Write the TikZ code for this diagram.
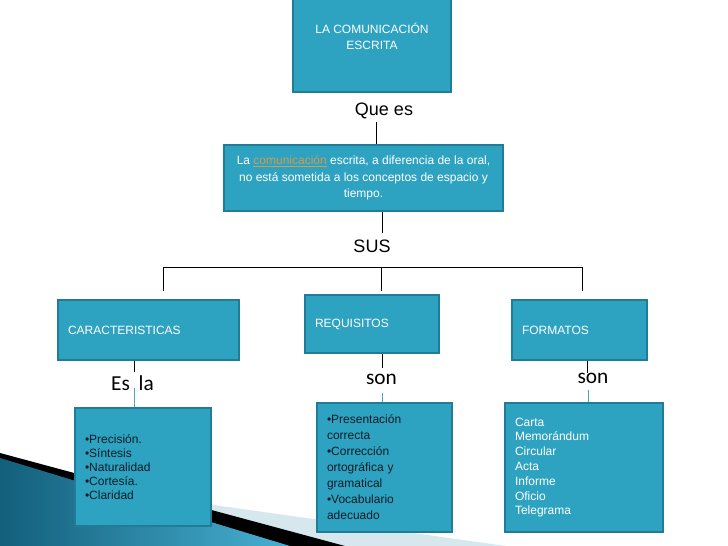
\documentclass[tikz,border=0pt]{standalone}
\usepackage{fontspec}
\setmainfont{Liberation Sans}
\newfontfamily\calib{Carlito}
\usetikzlibrary{shadows}
\definecolor{boxfill}{HTML}{2EA3C1}
\definecolor{boxedge}{HTML}{217D97}
\definecolor{linkc}{HTML}{D39B4C}
\definecolor{darktext}{HTML}{0E1C27}
\definecolor{tealline}{HTML}{4AA6C0}
\definecolor{stripc}{HTML}{D6E8EE}
\definecolor{tealdark}{HTML}{125F7B}
\definecolor{teallight}{HTML}{48B0D2}
\begin{document}
\begin{tikzpicture}[x=0.75pt,y=-0.75pt,
  box/.style={rectangle, fill=boxfill, draw=boxedge, line width=1.5pt,
    drop shadow={shadow xshift=0.8pt, shadow yshift=-0.8pt, opacity=0.3, fill=black},
    font=\fontsize{9}{12}\selectfont, text=white},
  boxleft/.style={align=left, inner xsep=7.5pt},
  conn/.style={draw=black, line width=0.7pt},
  tconn/.style={draw=tealline, line width=0.7pt},
  biglabel/.style={font=\fontsize{13.5}{16}\selectfont, text=black, inner sep=0pt},
  linklabel/.style={font=\calib\fontsize{16}{18}\selectfont, text=black, inner sep=0pt}]
\useasboundingbox (0,0) rectangle (728,546);
% background decoration
\fill[stripc] (0,475) -- (506,546) -- (0,546) -- cycle;
\fill[black] (0,453) -- (345,546) -- (0,546) -- cycle;
\shade[left color=tealdark, right color=teallight] (0,458) -- (290,546) -- (0,546) -- cycle;
% boxes
\node[box, minimum width=118.5pt, minimum height=73.5pt, align=center] (top) at (372,43)
  {LA COMUNICACIÓN\\ESCRITA\\[-2pt]\mbox{}};
\node[biglabel, anchor=base] (que) at (384,115.5) {Que es};
\node[box, minimum width=209.25pt, minimum height=49.5pt, align=center,
  font=\fontsize{9}{12.4}\selectfont] (mid) at (363.5,178)
  {La {\color{linkc}\underline{comunicación}} escrita, a diferencia de la oral,\\
   no está sometida a los conceptos de espacio y\\ tiempo.};
\node[biglabel, anchor=base] (sus) at (372,252.7) {SUS};
\node[box, boxleft, minimum height=45pt, text width=120.75pt] (cara) at (148.5,330) {CARACTERISTICAS};
\node[box, boxleft, minimum height=43.5pt, text width=85.5pt] (req) at (372,324) {REQUISITOS};
\node[box, boxleft, minimum height=45pt, text width=86.25pt] (form) at (579.5,330) {FORMATOS};
\node[linklabel, anchor=base] (esla) at (132.5,390) {Es\hspace{6.5pt}la};
\node[linklabel, anchor=base] (son1) at (381.5,384) {son};
\node[linklabel, anchor=base] (son2) at (593,383) {son};
\node[box, boxleft, minimum height=88.5pt, text width=87pt, text=darktext,
  font=\fontsize{9}{10.5}\selectfont] (b1) at (143,467)
  {•Precisión.\\•Síntesis\\•Naturalidad\\•Cortesía.\\•Claridad};
\node[box, boxleft, minimum height=96.75pt, text width=86.25pt, text=darktext,
  font=\fontsize{9}{12}\selectfont] (b2) at (384.5,467.5)
  {•Presentación\\correcta\\•Corrección\\ortográfica y\\gramatical\\•Vocabulario\\adecuado};
\node[box, boxleft, minimum height=96.75pt, text width=103.5pt,
  font=\fontsize{9}{11.1}\selectfont] (b3) at (584,467.5)
  {Carta\\Memorándum\\Circular\\Acta\\Informe\\Oficio\\Telegrama};
% connectors
\coordinate (q1) at (376,122);
\draw[conn] (q1) -- (q1 |- mid.north);
\coordinate (m1) at (382,233);
\draw[conn] (m1 |- mid.south) -- (m1);
\coordinate (hl) at (163,267);
\coordinate (hm) at (381,267);
\coordinate (hr) at (582,267);
\draw[conn] (hl) -- (hr);
\draw[conn, shorten >=6pt] (hl) -- (hl |- cara.north);
\draw[conn, shorten >=2pt] (hm) -- (hm |- req.north);
\draw[conn, shorten >=6pt] (hr) -- (hr |- form.north);
\coordinate (e1) at (134,372);
\coordinate (e2) at (134,388);
\draw[conn] (e1 |- cara.south) -- (e1);
\draw[tconn] (e2) -- (e2 |- b1.north);
\coordinate (s1) at (382,368);
\coordinate (s2) at (382,393);
\draw[conn] (s1 |- req.south) -- (s1);
\draw[tconn] (s2) -- (s2 |- b2.north);
\coordinate (f1) at (587,373);
\coordinate (f2) at (588,390);
\draw[conn] (f1 |- form.south) -- (f1);
\draw[tconn] (f2) -- (f2 |- b3.north);
\end{tikzpicture}
\end{document}
